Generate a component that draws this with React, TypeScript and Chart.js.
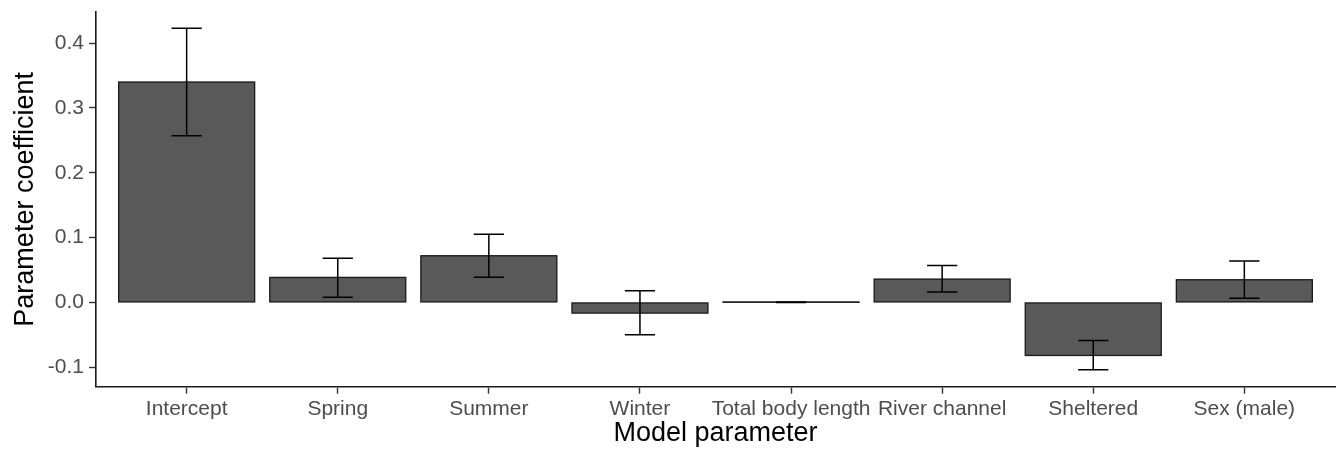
import React, { useEffect, useRef } from "react";
import { Chart, registerables } from "chart.js";

Chart.register(...registerables);

// Model parameters and their estimated coefficients with confidence bounds
const parameters = [
  "Intercept",
  "Spring",
  "Summer",
  "Winter",
  "Total body length",
  "River channel",
  "Sheltered",
  "Sex (male)",
];
const coefficients = [0.340, 0.0386, 0.072, -0.0165, 0.0002, 0.036, -0.0818, 0.035];
const lowerBounds = [0.257, 0.008, 0.039, -0.050, -0.0001, 0.016, -0.104, 0.0066];
const upperBounds = [0.423, 0.068, 0.105, 0.018, 0.0005, 0.057, -0.0586, 0.064];
const yTicks = [-0.1, 0.0, 0.1, 0.2, 0.3, 0.4];

const FONT = "'Liberation Sans', Arial, Helvetica, sans-serif";

// Outlines every bar, then draws the whiskers (vertical line plus end caps) on top
const outlineAndErrorBars = {
  id: "outlineAndErrorBars",
  afterDatasetsDraw(chart: any) {
    const { ctx, scales } = chart;
    const x = scales.x;
    const y = scales.y;
    ctx.save();

    ctx.strokeStyle = "#1a1a1a";
    ctx.lineWidth = 1.3;
    chart.getDatasetMeta(0).data.forEach((bar: any) => {
      const p = bar.getProps(["x", "y", "base", "width"], true);
      const top = Math.min(p.y, p.base);
      const h = Math.abs(p.base - p.y);
      ctx.strokeRect(p.x - p.width / 2, top, p.width, h);
    });

    const half = x.getPixelForValue(1.1) - x.getPixelForValue(1);
    ctx.strokeStyle = "#000000";
    ctx.lineWidth = 1.5;
    parameters.forEach((_, i) => {
      const cx = x.getPixelForValue(i + 1);
      const yl = y.getPixelForValue(lowerBounds[i]);
      const yu = y.getPixelForValue(upperBounds[i]);
      ctx.beginPath();
      ctx.moveTo(cx, yu);
      ctx.lineTo(cx, yl);
      ctx.moveTo(cx - half, yu);
      ctx.lineTo(cx + half, yu);
      ctx.moveTo(cx - half, yl);
      ctx.lineTo(cx + half, yl);
      ctx.stroke();
    });
    ctx.restore();
  },
};

export default function App() {
  const canvasRef = useRef<HTMLCanvasElement | null>(null);

  useEffect(() => {
    const canvas = canvasRef.current;
    if (!canvas) return;
    const chart = new Chart(canvas, {
      type: "bar",
      data: {
        datasets: [
          {
            data: coefficients.map((v, i) => ({ x: i + 1, y: v })),
            backgroundColor: "#595959",
            borderWidth: 0,
            barPercentage: 0.9,
            categoryPercentage: 1,
          },
        ],
      },
      options: {
        responsive: false,
        animation: false,
        layout: { padding: { left: 0, top: 12, right: 5, bottom: 0 } },
        plugins: {
          legend: { display: false },
          tooltip: { enabled: false },
        },
        scales: {
          x: {
            type: "linear",
            min: 0.4,
            max: 8.6,
            offset: false,
            afterBuildTicks: (scale: any) => {
              scale.ticks = parameters.map((_, i) => ({ value: i + 1 }));
            },
            afterFit: (scale: any) => {
              scale.height = 63.3;
              scale.paddingLeft = 0;
              scale.paddingRight = 0;
            },
            grid: {
              display: true,
              offset: false,
              drawOnChartArea: false,
              drawTicks: true,
              tickLength: 7,
              tickWidth: 1.4,
              tickColor: "#333333",
            },
            border: { display: true, color: "#1a1a1a", width: 1.6 },
            ticks: {
              autoSkip: false,
              maxRotation: 0,
              minRotation: 0,
              padding: 3,
              color: "#4d4d4d",
              font: { family: FONT, size: 21 },
              callback: (v: any) => parameters[Number(v) - 1] ?? "",
            },
            title: {
              display: true,
              text: "Model parameter",
              color: "#000000",
              font: { family: FONT, size: 27 },
              padding: { top: 0, bottom: 0 },
            },
          },
          y: {
            type: "linear",
            min: -0.13,
            max: 0.448,
            afterBuildTicks: (scale: any) => {
              scale.ticks = yTicks.map((v) => ({ value: v }));
            },
            afterFit: (scale: any) => {
              scale.width = 96;
              scale.paddingTop = 0;
              scale.paddingBottom = 0;
            },
            grid: {
              display: true,
              drawOnChartArea: false,
              drawTicks: true,
              tickLength: 7,
              tickWidth: 1.4,
              tickColor: "#333333",
            },
            border: { display: true, color: "#1a1a1a", width: 1.6 },
            ticks: {
              padding: 5,
              color: "#4d4d4d",
              font: { family: FONT, size: 21 },
              callback: (v: any) => Number(v).toFixed(1),
            },
            title: {
              display: true,
              text: "Parameter coefficient",
              color: "#000000",
              font: { family: FONT, size: 27 },
              padding: { top: 9, bottom: 0 },
            },
          },
        },
      },
      plugins: [outlineAndErrorBars],
    });
    return () => chart.destroy();
  }, []);

  return (
    <div style={{ position: "fixed", left: 0, top: 0, width: 1340, height: 450, background: "#ffffff" }}>
      <canvas ref={canvasRef} width={1340} height={450} />
    </div>
  );
}
